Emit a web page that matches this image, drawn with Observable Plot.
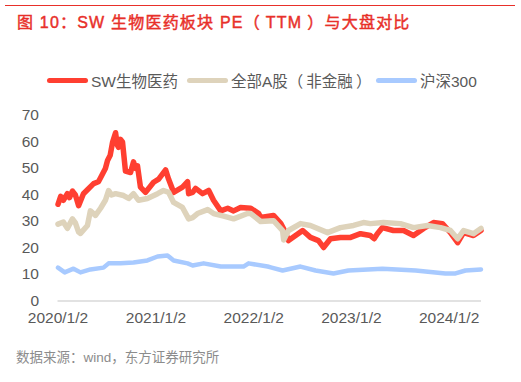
<!DOCTYPE html>
<html>
<head>
<meta charset="utf-8">
<script src="https://cdn.jsdelivr.net/npm/d3@7"></script>
<script src="https://cdn.jsdelivr.net/npm/@observablehq/plot@0.6"></script>
<style>
  html, body { margin: 0; padding: 0; background: #fff; }
  body { width: 521px; height: 382px; position: relative; overflow: hidden;
         font-family: "Liberation Sans", Arial, "Noto Sans CJK SC", sans-serif; }
  #topline { position: absolute; left: 5px; top: 5px; width: 510px; height: 0; border-top: 1.2px solid #e8302a; }
  #title { position: absolute; left: 17px; top: 9px; font-size: 16px; font-weight: normal; color: #e8302a;
           -webkit-text-stroke: 0.45px #e8302a; letter-spacing: 1.2px;
           font-family: "Liberation Sans", Arial, "Noto Sans CJK SC", sans-serif; white-space: nowrap; }
  .leg { position: absolute; top: 70px; height: 20px; display: flex; align-items: center; font-size: 15.5px; color: #595959; white-space: nowrap; }
  .sw { display: inline-block; width: 41px; height: 5px; border-radius: 3px; margin-right: 3px; }
  .par { display: inline-block; }
  #chart { position: absolute; left: 0; top: 100px; }
  #caption { position: absolute; left: 16px; top: 346px; font-size: 13.5px; color: #8c8c8c; white-space: nowrap; }
</style>
</head>
<body>
<div id="topline"></div>
<div id="title">图 10：SW 生物医药板块 PE<span class="par" style="margin-right:5px">（</span>TTM<span class="par" style="margin-left:5px">）</span>与大盘对比</div>
<div id="legend"></div>
<div id="chart"></div>
<div id="caption">数据来源：wind，东方证券研究所</div>
<script>
// ---- data ----
const seriesNames = ["SW生物医药", "全部A股（非金融）", "沪深300"];
const seriesColors = ["#ff3f31", "#ded3bb", "#a8caff"];

const swDates = ["2020-01-02","2020-01-12","2020-01-22","2020-02-06","2020-02-14","2020-02-25","2020-03-07","2020-03-19","2020-04-06","2020-04-21","2020-05-14","2020-06-01","2020-06-09","2020-06-27","2020-07-05","2020-07-15","2020-07-24","2020-08-04","2020-08-10","2020-08-15","2020-08-22","2020-08-30","2020-09-10","2020-09-29","2020-10-10","2020-10-18","2020-10-25","2020-11-05","2020-11-24","2020-12-10","2020-12-24","2021-01-12","2021-02-07","2021-02-18","2021-03-09","2021-04-11","2021-04-30","2021-05-04","2021-05-19","2021-05-30","2021-06-25","2021-07-18","2021-08-05","2021-09-01","2021-09-27","2021-10-19","2021-11-14","2021-12-22","2022-01-21","2022-01-28","2022-03-17","2022-04-13","2022-05-01","2022-05-12","2022-07-04","2022-08-02","2022-09-01","2022-09-20","2022-10-16","2022-11-22","2022-12-30","2023-02-05","2023-03-14","2023-03-28","2023-04-09","2023-04-28","2023-06-08","2023-07-16","2023-08-22","2023-09-29","2023-11-05","2023-12-08","2024-01-07","2024-02-03","2024-02-25","2024-04-02","2024-04-30"];
const swValues = [36.5,39.5,38,40.5,39,41.5,40,36,40.5,42,44.3,45,46.5,50,53,55,60,63.5,59,58,61,60,49,48.5,52.5,50,51,43,41,43,44.8,46,49.5,46,41,43,45,40.5,41,42.5,40.5,41.7,38,34,35,34,35.3,35,33,31.5,32.3,29.3,25.8,22.8,26.6,24,22.8,20.2,23.5,24,24,25.4,24.7,23.5,25.4,27.7,26.6,26.6,24.7,27.4,29.6,29.2,25.8,22,25.8,24.7,26.6];

const aDates = ["2020-01-02","2020-01-22","2020-02-06","2020-02-25","2020-03-07","2020-03-19","2020-03-26","2020-04-21","2020-05-02","2020-05-21","2020-06-09","2020-06-27","2020-07-09","2020-07-20","2020-08-04","2020-09-03","2020-09-22","2020-10-10","2020-10-29","2020-12-01","2021-01-08","2021-01-30","2021-02-18","2021-03-09","2021-04-11","2021-05-04","2021-05-19","2021-06-06","2021-07-14","2021-08-05","2021-09-12","2021-10-19","2021-12-10","2021-12-22","2022-01-28","2022-03-17","2022-04-20","2022-04-24","2022-05-12","2022-06-26","2022-08-02","2022-10-05","2022-11-22","2023-01-10","2023-02-16","2023-03-14","2023-05-02","2023-07-04","2023-08-22","2023-10-13","2023-12-01","2024-01-07","2024-02-03","2024-02-25","2024-04-02","2024-04-30"];
const aValues = [29,29.8,27.4,31,29.5,26,25.5,28.5,34,32.3,35,38,41.7,40,40.5,39.8,38.7,40.5,38,38.7,40.5,41.7,41,37.2,35.3,31,31.5,33,34.5,33,32,31,33,33,30,30.3,26.6,23,26.6,29.2,28.5,25.8,27.7,28.5,29.6,29.2,29.6,29.2,27.7,28.5,27.7,26.6,23.5,26.6,25.4,27.4];

const hsDates = ["2020-01-02","2020-01-27","2020-02-29","2020-03-26","2020-05-02","2020-06-20","2020-07-09","2020-08-23","2020-10-10","2020-12-01","2021-01-08","2021-02-14","2021-03-09","2021-04-30","2021-05-19","2021-06-29","2021-09-01","2021-11-25","2021-12-14","2022-02-23","2022-03-10","2022-04-20","2022-06-26","2022-08-21","2022-10-27","2022-12-22","2023-04-28","2023-08-30","2023-12-19","2024-01-26","2024-03-03","2024-04-30"];
const hsValues = [12.6,10.8,12.2,10.8,11.9,12.6,14.2,14.2,14.5,15.3,16.8,17.2,15.3,14.2,13.4,14.2,13,13,14.2,13,12.6,11.5,13,11.5,10.4,11.5,12.2,11.5,10.4,10.4,11.5,11.9];

const xTickLabels = ["2020/1/2", "2021/1/2", "2022/1/2", "2023/1/2", "2024/1/2"];
const yTicks = [0, 10, 20, 30, 40, 50, 60, 70];

// ---- build ----
const parse = d3.utcParse("%Y-%m-%d");
const toRows = (dates, values) => dates.map((d, i) => ({date: parse(d), value: values[i]}));
const rows = [toRows(swDates, swValues), toRows(aDates, aValues), toRows(hsDates, hsValues)];
const tickDates = xTickLabels.map(s => d3.utcParse("%Y/%-m/%-d")(s));
const fmt = d3.utcFormat("%Y/%-m/%-d");

const widths = [5.5, 5.5, 4.5];
const chart = Plot.plot({
  width: 521,
  height: 240,
  marginTop: 15,
  marginBottom: 39.5,
  marginLeft: 57.5,
  marginRight: 40,
  style: {fontFamily: '"Liberation Sans", Arial, sans-serif', fontSize: "15.5px", color: "#595959", background: "transparent"},
  x: {type: "utc", domain: [parse("2020-01-02"), parse("2024-05-02")], ticks: tickDates, tickFormat: fmt, tickSize: 0, tickPadding: 11, label: null},
  y: {domain: [0, 70], ticks: yTicks, tickSize: 0, tickPadding: 19, label: null},
  marks: [
    Plot.ruleY([0], {stroke: "#d9d9d9", strokeWidth: 1.5}),
    ...rows.map((r, i) => Plot.line(r, {x: "date", y: "value", stroke: seriesColors[i], strokeWidth: widths[i], strokeLinejoin: "round", strokeLinecap: "round"}))
  ]
});
document.getElementById("chart").appendChild(chart);

// legend
const legLefts = [47, 187, 376];
const legend = document.getElementById("legend");
seriesNames.forEach((n, i) => {
  const d = document.createElement("div");
  d.className = "leg";
  d.style.left = legLefts[i] + "px";
  const label = n.replace("（", '<span class="par" style="margin-right:3px">（</span>').replace("）", '<span class="par" style="margin-left:3px">）</span>');
  d.innerHTML = `<span class="sw" style="background:${seriesColors[i]}"></span><span>${label}</span>`;
  legend.appendChild(d);
});
</script>
</body>
</html>
